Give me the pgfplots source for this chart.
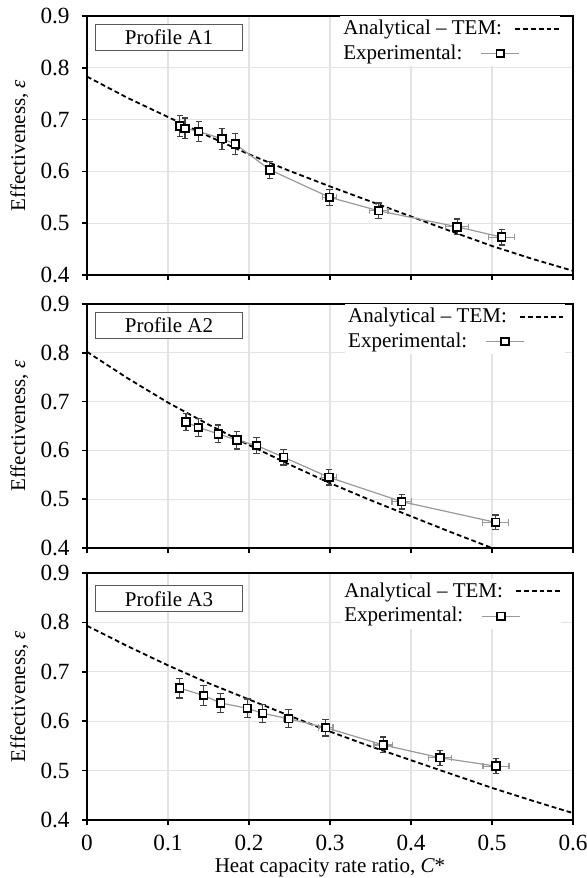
\documentclass[border=0pt]{standalone}
\usepackage{fontspec}
\setmainfont{Liberation Serif}
\usepackage{pgfplots}
\usepackage{pgfplotstable}
\pgfplotsset{compat=1.18}

% experimental: x, y, x error, y error
\pgfplotstableread{
x y ex ey
0.1145 0.688 0 0.020
0.121 0.683 0 0.020
0.138 0.677 0 0.020
0.1666 0.663 0 0.020
0.183 0.653 0 0.020
0.2257 0.603 0 0.016
0.2995 0.550 0.009 0.0155
0.360 0.524 0.0115 0.015
0.457 0.493 0.014 0.015
0.512 0.473 0.016 0.015
}\expA
\pgfplotstableread{
x y ex ey
0.1223 0.658 0 0.018
0.1375 0.647 0 0.018
0.162 0.634 0 0.018
0.185 0.621 0 0.018
0.2095 0.610 0 0.017
0.2428 0.586 0.004 0.016
0.2986 0.545 0.009 0.016
0.3886 0.495 0.012 0.015
0.5045 0.4525 0.016 0.015
}\expB
\pgfplotstableread{
x y ex ey
0.1144 0.667 0 0.020
0.144 0.652 0 0.020
0.165 0.637 0 0.019
0.198 0.626 0 0.019
0.2168 0.616 0 0.018
0.249 0.605 0.006 0.018
0.2946 0.587 0.009 0.017
0.3657 0.552 0.0115 0.016
0.4358 0.526 0.014 0.015
0.505 0.509 0.016 0.015
}\expC

% analytical (TEM)
\pgfplotstableread{
x y
0 0.783
0.05 0.742
0.1 0.705
0.15 0.668
0.2 0.633
0.25 0.601
0.3 0.571
0.35 0.542
0.4 0.513
0.45 0.484
0.5 0.456
0.55 0.431
0.6 0.408
}\temA
\pgfplotstableread{
x y
0 0.802
0.05 0.748
0.1 0.698
0.15 0.653
0.2 0.611
0.25 0.571
0.3 0.533
0.35 0.498
0.4 0.465
0.45 0.432
0.5 0.400
0.55 0.370
0.6 0.342
}\temB
\pgfplotstableread{
x y
0 0.793
0.05 0.752
0.1 0.713
0.15 0.677
0.2 0.644
0.25 0.611
0.3 0.579
0.35 0.549
0.4 0.521
0.45 0.493
0.5 0.465
0.55 0.439
0.6 0.414
}\temC

\tikzset{
  profile/.style={draw=black!65, fill=white, line width=0.5pt, minimum width=73.5pt,
    minimum height=13pt, anchor=north west, inner sep=0pt},
}

\pgfplotsset{
  panel/.style={
    scale only axis, width=243pt,
    xmin=0, xmax=0.6, ymin=0.4, ymax=0.9,
    xtick={0,0.1,...,0.6}, ytick={0.4,0.5,...,0.9},
    xtick pos=left, ytick pos=left, tick align=outside,
    major tick length=2.7pt,
    tick style={black, line width=0.8pt},
    axis line style={line width=1pt},
    grid=major, major grid style={black!11, line width=0.6pt},
    /pgf/number format/assume math mode=true,
    /pgf/number format/fixed, /pgf/number format/precision=1,
    tick label style={font=\fontsize{11.6}{13}\selectfont},
    yticklabel style={xshift=-2.3pt},
    xticklabel style={yshift=-1pt},
    every axis y label/.style={at={(axis description cs:-0.139,0.5)}, rotate=90, anchor=center},
    every axis x label/.style={at={(axis description cs:0.5,-0.195)}, anchor=center},
    ylabel={Effectiveness, \textit{ε}},
    legend plot pos=right, legend cell align=left,
    legend style={draw=none, fill=white, inner sep=0.5pt, row sep=1.2pt,
      column sep=5pt, nodes={inner sep=1.2pt}},
    legend image code/.code={\draw[mark repeat=2, mark phase=2, #1]
      plot coordinates {(0cm,0cm) (0.38cm,0cm) (0.76cm,0cm)};},
  },
  tem/.style={black, line width=0.9pt, dash pattern=on 2.4pt off 1.5pt},
  expline/.style={black!40, line width=0.6pt, mark=square*, mark size=1.9pt,
    mark options={draw=black, fill=white, line width=0.9pt, solid},
    legend image code/.code={\path[draw=none, fill=none] (0cm,0cm) rectangle (0.76cm,0.01cm);
      \draw[overlay, mark repeat=2, mark phase=2, ##1]
      plot coordinates {(-0.6cm,0cm) (-0.265cm,0cm) (0.07cm,0cm)};}},
  yerr/.style={draw=none, forget plot, error bars/.cd, y dir=both, y explicit,
    error bar style={black!75, line width=0.6pt},
    error mark options={rotate=90, black!75, mark size=1.6pt, line width=0.6pt}},
  xerr/.style={draw=none, forget plot, error bars/.cd, x dir=both, x explicit,
    error bar style={black!40, line width=0.6pt},
    error mark options={rotate=90, black!40, mark size=1.6pt, line width=0.6pt}},
}

\begin{document}
\fontsize{10.5}{12.6}\selectfont
\begin{tikzpicture}
\useasboundingbox (-43.5pt,8pt) rectangle (249.5pt,-431pt);

\begin{axis}[panel, height=129.5pt, at={(0,0)}, anchor=north west,
  xticklabels={},
  legend style={at={(rel axis cs:0.975,1)}, anchor=north east}]
  \addplot[tem] table[x=x,y=y] {\temA};
  \addlegendentry{Analytical -- TEM:}
  \addplot[yerr] table[x=x,y=y,y error=ey] {\expA};
  \addplot[xerr] table[x=x,y=y,x error=ex] {\expA};
  \addplot[expline] table[x=x,y=y] {\expA};
  \addlegendentry{Experimental:}
  \node[profile] at (rel axis cs:0.0165,0.969) {Profile A1};
\end{axis}

\begin{axis}[panel, height=122pt, at={(0,-144pt)}, anchor=north west,
  xticklabels={},
  legend style={at={(rel axis cs:0.985,1)}, anchor=north east}]
  \addplot[tem] table[x=x,y=y] {\temB};
  \addlegendentry{Analytical -- TEM:}
  \addplot[yerr] table[x=x,y=y,y error=ey] {\expB};
  \addplot[xerr] table[x=x,y=y,x error=ex] {\expB};
  \addplot[expline] table[x=x,y=y] {\expB};
  \addlegendentry{Experimental:}
  \node[profile] at (rel axis cs:0.0165,0.968) {Profile A2};
\end{axis}

\begin{axis}[panel, height=123.5pt, at={(0,-278.5pt)}, anchor=north west,
  xlabel={Heat capacity rate ratio, \textit{C}*},
  legend style={at={(rel axis cs:0.977,0.977)}, anchor=north east}]
  \addplot[tem] table[x=x,y=y] {\temC};
  \addlegendentry{Analytical -- TEM:}
  \addplot[yerr] table[x=x,y=y,y error=ey] {\expC};
  \addplot[xerr] table[x=x,y=y,x error=ex] {\expC};
  \addplot[expline] table[x=x,y=y] {\expC};
  \addlegendentry{Experimental:}
  \node[profile] at (rel axis cs:0.0165,0.95) {Profile A3};
\end{axis}
\end{tikzpicture}
\end{document}
